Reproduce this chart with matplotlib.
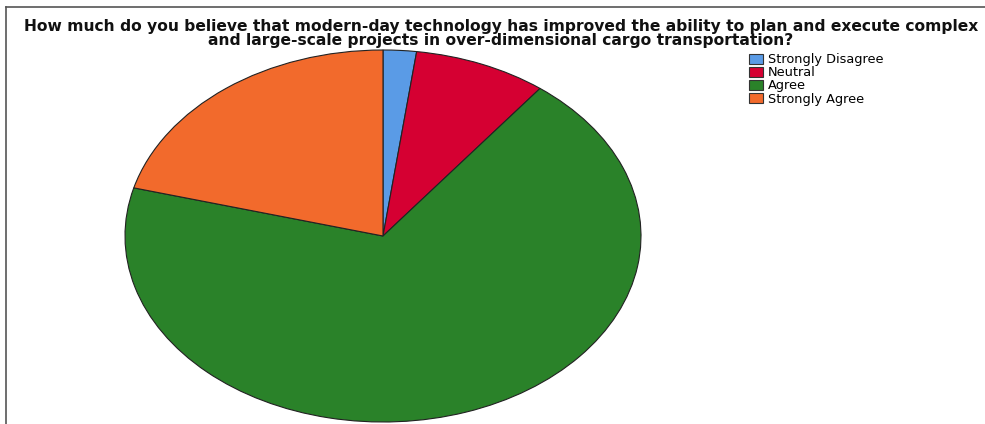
import matplotlib.pyplot as plt
from matplotlib.patches import Patch
from matplotlib.lines import Line2D

plt.rcParams['font.family'] = ['DejaVu Sans']

labels = ["Strongly Disagree", "Neutral", "Agree", "Strongly Agree"]
counts = [1, 4, 33, 10]
colors = ["#5a9be6", "#d50032", "#2a8229", "#f26a2c"]
title = ("How much do you believe that modern-day technology has improved the ability to plan and execute complex\n"
         "and large-scale projects in over-dimensional cargo transportation?")

fig = plt.figure(figsize=(9.85, 4.24), dpi=100)

# pie axes stretched to an ellipse
ax = fig.add_axes([125 / 985, 2 / 424, 516 / 985, 372 / 424])
ax.pie(counts, colors=colors, startangle=90, counterclock=False,
       wedgeprops=dict(edgecolor="#222222", linewidth=0.8))
ax.set_aspect("auto")
ax.set_xlim(-1, 1)
ax.set_ylim(-1, 1)
ax.axis("off")

fig.text(501 / 985, 1 - 33.5 / 424, title, ha="center", va="center", multialignment="center",
         fontsize=11.2, fontweight="bold", color="#111111", linespacing=0.85)

handles = [Patch(facecolor=c, edgecolor="#333333", linewidth=0.8) for c in colors]
fig.legend(handles, labels, loc="upper left", bbox_to_anchor=(749 / 985, 1 - 53.5 / 424),
           frameon=False, fontsize=9.3, handlelength=1.1, handleheight=0.9,
           handletextpad=0.35, labelspacing=0.0, borderpad=0, borderaxespad=0)

# frame lines on top and left
fig.add_artist(Line2D([6 / 985, 1], [1 - 7 / 424, 1 - 7 / 424], color="#555555", lw=1.2))
fig.add_artist(Line2D([6 / 985, 6 / 985], [0, 1 - 7 / 424], color="#555555", lw=1.2))

fig.savefig("out.png", dpi=100)
